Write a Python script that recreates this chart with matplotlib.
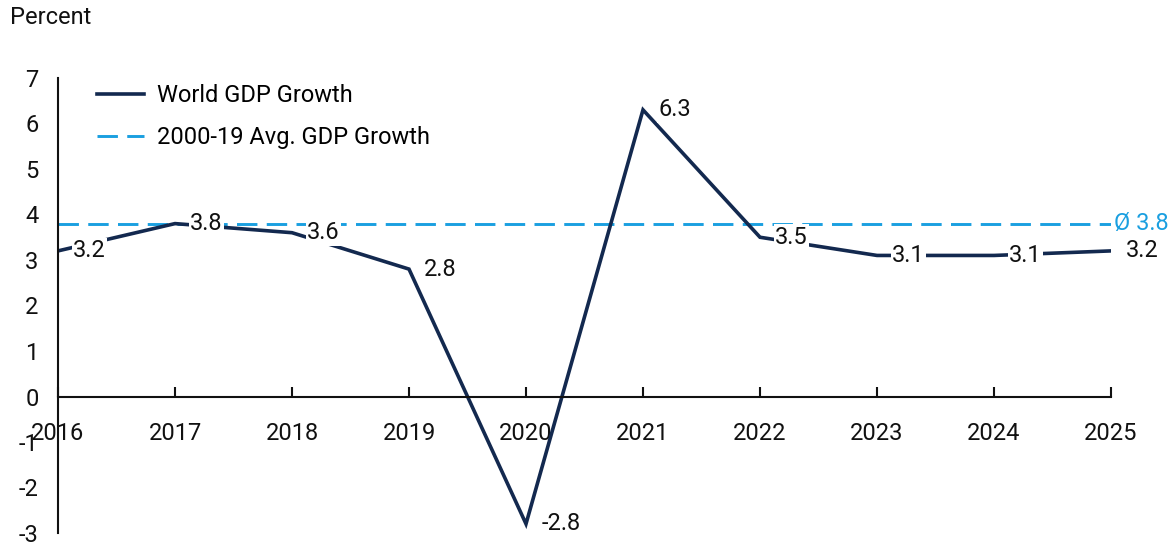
import matplotlib

matplotlib.use("Agg")
import matplotlib.pyplot as plt

plt.rcParams["font.family"] = ["Roboto", "DejaVu Sans"]

years = [2016, 2017, 2018, 2019, 2020, 2021, 2022, 2023, 2024, 2025]
gdp_growth = [3.2, 3.8, 3.6, 2.8, -2.8, 6.3, 3.5, 3.1, 3.1, 3.2]
avg_growth = 3.8
y_ticks = [-3, -2, -1, 0, 1, 2, 3, 4, 5, 6, 7]

navy = "#13294f"
light_blue = "#1a9fe0"
text_color = "#111111"
fs = 17

fig = plt.figure(figsize=(11.73, 5.44), dpi=100)
ax = fig.add_axes([58 / 1173, 11 / 544, (1111 - 58) / 1173, 455 / 544])

ax.plot(years, gdp_growth, color=navy, lw=2.6, label="World GDP Growth",
        solid_joinstyle="miter", zorder=2)
ax.axhline(avg_growth, color=light_blue, lw=2.1, dashes=(7, 3.2),
           label="2000-19 Avg. GDP Growth", zorder=1)

# value labels sit right of each point on a white patch that hides the line
for x, v in zip(years, gdp_growth):
    ax.annotate(f"{v:.1f}", (x, v), xytext=(11, 0), textcoords="offset points",
                ha="left", va="center", fontsize=fs, color=text_color,
                bbox=dict(facecolor="white", edgecolor="none", pad=1.0), zorder=3)

ax.annotate(f"Ø {avg_growth:.1f}", (years[-1], avg_growth), xytext=(2, 0),
            textcoords="offset points", ha="left", va="center", fontsize=fs,
            color=light_blue, annotation_clip=False)

ax.set_xlim(years[0], years[-1])
ax.set_ylim(-3, 7)
ax.set_xticks(years)
ax.set_yticks(y_ticks)
ax.set_yticklabels([str(t) for t in y_ticks])

ax.spines["top"].set_visible(False)
ax.spines["right"].set_visible(False)
ax.spines["bottom"].set_position(("data", 0))
for s in ("left", "bottom"):
    ax.spines[s].set_linewidth(1.5)
    ax.spines[s].set_color(text_color)

ax.tick_params(axis="x", direction="in", length=7, width=1.5, pad=18,
               labelsize=fs, colors=text_color)
ax.tick_params(axis="y", length=0, pad=14, labelsize=fs, colors=text_color)

ax.legend(loc="upper left", frameon=False, fontsize=fs, handlelength=2.0,
          handletextpad=0.55, labelspacing=0.8, borderpad=0, borderaxespad=0,
          bbox_to_anchor=(0.037, 0.986))

fig.text(10 / 1173, 1 - 18 / 544, "Percent", fontsize=fs, ha="left",
         va="center", color=text_color)

fig.savefig("out.png", dpi=100)
